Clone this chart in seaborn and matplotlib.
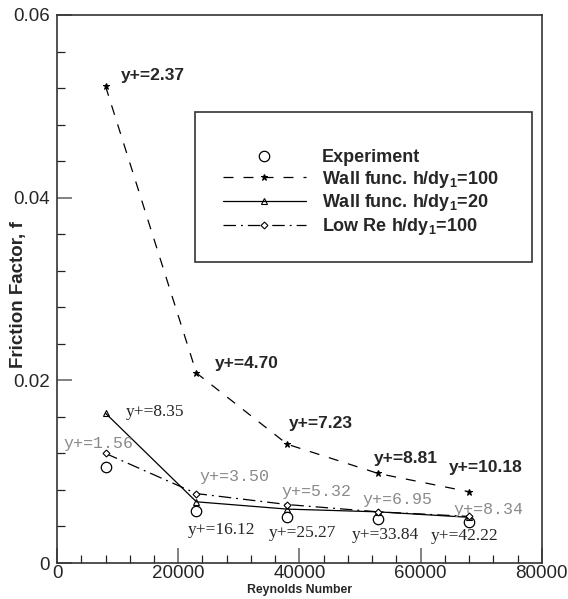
import matplotlib
matplotlib.use("Agg")
import matplotlib.pyplot as plt
import seaborn as sns
from matplotlib.patches import Rectangle
from matplotlib.ticker import MultipleLocator, FuncFormatter

# values
reynolds = [8000, 23000, 38000, 53000, 68000]
f_experiment = [0.0105, 0.0057, 0.0050, 0.0048, 0.0045]
f_wall_100 = [0.0522, 0.0208, 0.0130, 0.0098, 0.0078]
f_wall_20 = [0.0164, 0.0067, 0.0059, 0.0056, 0.0050]
f_lowre_100 = [0.0120, 0.0076, 0.0064, 0.0056, 0.0051]

yplus_wall_100 = ["2.37", "4.70", "7.23", "8.81", "10.18"]
yplus_wall_20 = ["8.35", "16.12", "25.27", "33.84", "42.22"]
yplus_lowre_100 = ["1.56", "3.50", "5.32", "6.95", "8.34"]

labels = ["Experiment", "Wall func. h/dy$_1$=100",
          "Wall func. h/dy$_1$=20", "Low Re h/dy$_1$=100"]

# label offsets (pixels) from each point
off_wall_100 = [(15, 11), (18, 10), (2, 21), (-4, 15), (-20, 24)]
off_wall_20 = [(20, 1), (-9, -28), (-19, -24), (-26, -23), (-38, -19)]
off_lowre_100 = [(-42, 10), (3, 17), (-6, 13), (-16, 12), (-16, 7)]

sns.set_style("ticks")
plt.rcParams['font.family'] = ['Liberation Sans', 'DejaVu Sans']
plt.rcParams['mathtext.default'] = 'regular'

fig, ax = plt.subplots(figsize=(5.68, 5.99), dpi=100)
fig.subplots_adjust(left=0.1004, right=0.954, bottom=0.0601, top=0.975)

sns.lineplot(x=reynolds, y=f_experiment, ax=ax, linestyle='', marker='o',
             ms=7.5, mfc='none', mec='k', mew=0.9, color='k', label=labels[0])
sns.lineplot(x=reynolds, y=f_wall_100, ax=ax, color='k', lw=0.9,
             linestyle=(0, (8, 8)), marker='*', ms=5, mfc='k', mec='k',
             label=labels[1])
sns.lineplot(x=reynolds, y=f_wall_20, ax=ax, color='k', lw=0.9,
             marker='^', ms=4.5, mfc='none', mec='k', mew=0.8,
             label=labels[2])
sns.lineplot(x=reynolds, y=f_lowre_100, ax=ax, color='k', lw=0.9,
             linestyle=(0, (10, 4, 1.5, 4)), marker='D', ms=3.5, mfc='white',
             mec='k', mew=0.8, label=labels[3])

for x, y, t, o in zip(reynolds, f_wall_100, yplus_wall_100, off_wall_100):
    ax.annotate("y+=" + t, (x, y), xytext=o, textcoords='offset pixels',
                ha='left', va='center', fontsize=12.5, fontweight='bold')
for x, y, t, o in zip(reynolds, f_wall_20, yplus_wall_20, off_wall_20):
    ax.annotate("y+=" + t, (x, y), xytext=o, textcoords='offset pixels',
                ha='left', va='center', fontsize=12.5,
                family=['Liberation Serif', 'DejaVu Serif'])
for x, y, t, o in zip(reynolds, f_lowre_100, yplus_lowre_100, off_lowre_100):
    ax.annotate("y+=" + t, (x, y), xytext=o, textcoords='offset pixels',
                ha='left', va='center', fontsize=12, color='#8a8a8a',
                family=['Liberation Mono', 'DejaVu Sans Mono'])

ax.set_xlim(0, 80000)
ax.set_ylim(0, 0.06)
ax.xaxis.set_major_locator(MultipleLocator(20000))
ax.xaxis.set_minor_locator(MultipleLocator(4000))
ax.yaxis.set_major_locator(MultipleLocator(0.02))
ax.yaxis.set_minor_locator(MultipleLocator(0.004))
fmt = FuncFormatter(lambda v, p: "0" if abs(v) < 1e-12 else f"{v:g}")
ax.xaxis.set_major_formatter(fmt)
ax.yaxis.set_major_formatter(fmt)
ax.tick_params(which='major', direction='in', length=11, width=1.3,
               color='#777777', labelsize=13.5, pad=5,
               top=False, right=False)
ax.tick_params(axis='x', which='major', pad=1.5)
ax.tick_params(which='minor', direction='in', length=6, width=0.9,
               color='#222222', top=False, right=False)
for s in ax.spines.values():
    s.set_linewidth(1.2)
    s.set_color('#333333')

ax.set_ylabel("Friction Factor, f", fontsize=13.5, fontweight='bold')
ax.yaxis.set_label_coords(-0.062, 0.49)
ax.set_xlabel("Reynolds Number", fontsize=8.8, fontweight='bold')
ax.xaxis.set_label_coords(0.5, -0.039)

ax.add_patch(Rectangle((0.2845, 0.549), 0.695, 0.274, transform=ax.transAxes,
                       fill=False, ec='#333333', lw=1.2, zorder=1))
ax.legend(loc='upper left', bbox_to_anchor=(0.342, 0.7555), frameon=False,
          borderpad=0, borderaxespad=0, numpoints=1, handlelength=4.6,
          handletextpad=0.9, labelspacing=0.15,
          prop={'size': 13, 'weight': 'bold'})

fig.savefig("out.png", dpi=100)
